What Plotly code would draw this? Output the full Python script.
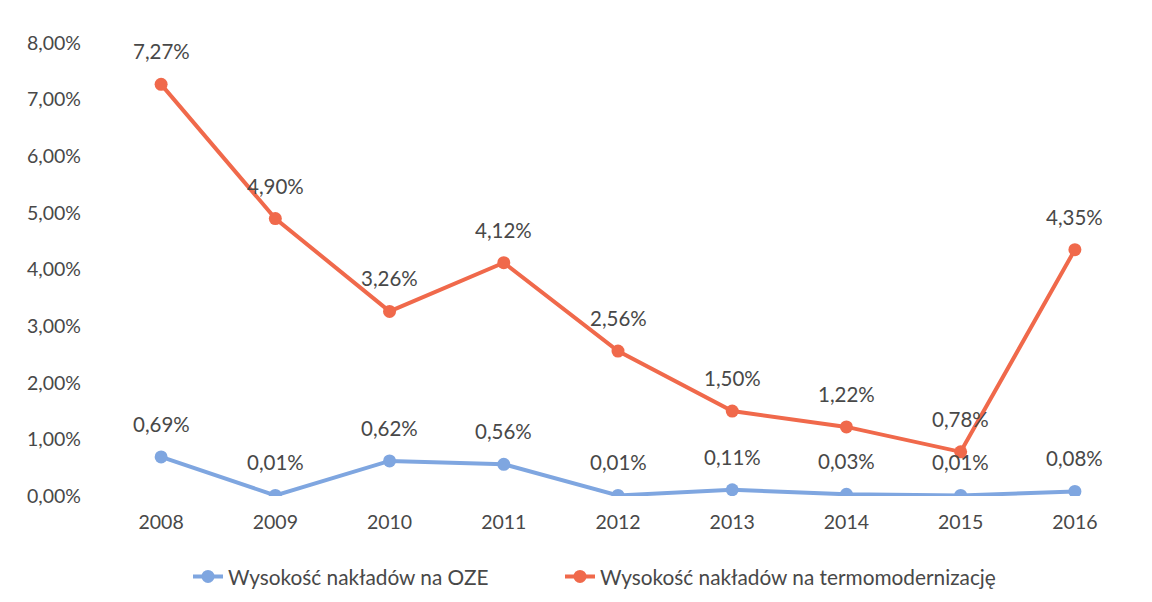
import plotly.graph_objects as go

years = ["2008", "2009", "2010", "2011", "2012", "2013", "2014", "2015", "2016"]
oze = [0.69, 0.01, 0.62, 0.56, 0.01, 0.11, 0.03, 0.01, 0.08]
termo = [7.27, 4.90, 3.26, 4.12, 2.56, 1.50, 1.22, 0.78, 4.35]
name_oze = "Wysokość nakładów na OZE"
name_termo = "Wysokość nakładów na termomodernizację"

BLUE = "#7FA6E0"
ORANGE = "#F0694B"
TXT = "#484848"
FONT = "Lato"
FS = 19.5

fig = go.Figure()
for vals, name, col, leg in [(oze, name_oze, BLUE, "legend"), (termo, name_termo, ORANGE, "legend2")]:
    fig.add_trace(go.Scatter(
        x=years, y=[v / 100 for v in vals], name=name, mode="lines+markers",
        line=dict(color=col, width=4), marker=dict(color=col, size=13), legend=leg,
    ))
    for i, v in enumerate(vals):
        fig.add_annotation(x=i, y=v / 100, xref="x", yref="y",
                           text=f"{v:.2f}%".replace(".", ","),
                           showarrow=False, yshift=33,
                           font=dict(family=FONT, size=20.5, color=TXT))

leg_common = dict(orientation="h", xanchor="left", xref="container", yref="container",
                  y=0.055, yanchor="middle", font=dict(family=FONT, size=20.8, color=TXT))

fig.update_layout(
    width=1152, height=602,
    paper_bgcolor="white", plot_bgcolor="white",
    margin=dict(l=96, r=28, t=35, b=114),
    separators=", ",
    font=dict(family=FONT, size=FS, color=TXT),
    showlegend=True,
    legend=dict(x=180 / 1152, **leg_common),
    legend2=dict(x=552 / 1152, **leg_common),
    xaxis=dict(type="category", range=[-0.5, 8.5], showgrid=False, zeroline=False,
               showline=False, ticks="", tickfont=dict(size=FS, color=TXT), ticklabelstandoff=12),
    yaxis=dict(range=[0, 0.08], dtick=0.01, tickformat=".2%", showgrid=False,
               zeroline=False, showline=False, ticks="", tickfont=dict(size=FS, color=TXT),
               ticklabelstandoff=22),
)

fig.write_html("out.html")
